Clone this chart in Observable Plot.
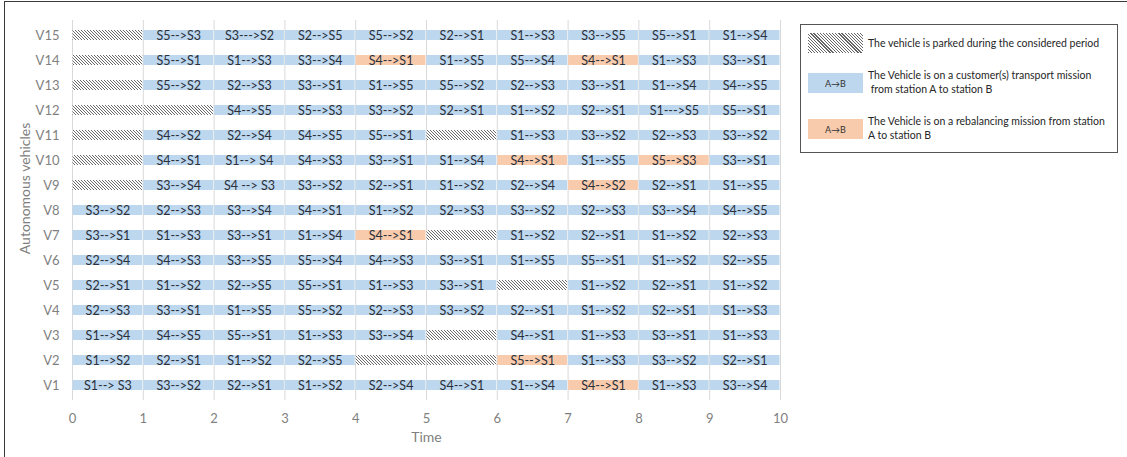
<!DOCTYPE html>
<html><head><meta charset="utf-8">
<script src="https://cdn.jsdelivr.net/npm/d3@7"></script>
<script src="https://cdn.jsdelivr.net/npm/@observablehq/plot@0.6"></script>
<style>
html,body{margin:0;padding:0;background:#fff;overflow:hidden}
#wrap{position:relative;width:1127px;height:457px;font-family:Lato,"Open Sans",sans-serif;overflow:hidden}
#frame{position:absolute;left:4px;top:1px;width:1300px;height:700px;border:1.5px solid #3a3a3a;box-sizing:border-box}
#chart{position:absolute;left:0;top:0}
#legend{position:absolute;left:800px;top:24px;width:318px;height:129px;border:1px solid #555;box-sizing:border-box;background:#fff;color:#262626;font-size:10.5px}
.sw{position:absolute;left:7px;width:55px;height:20px;display:flex;align-items:center;justify-content:center;font-size:9px;color:#333}
.lt{position:absolute;left:67px;line-height:14px;white-space:nowrap}
</style></head>
<body>
<div id="wrap">
  <div id="frame"></div>
  <div id="chart"></div>
  <div id="legend"></div>
</div>
<script>
// ---- data ----
const vehicles = ["V1","V2","V3","V4","V5","V6","V7","V8","V9","V10","V11","V12","V13","V14","V15"];
const xTicks = [0,1,2,3,4,5,6,7,8,9,10];
// "P" = parked, "*" prefix = rebalancing mission, otherwise customer transport mission
const v1  = ["S1--> S3","S3-->S2","S2-->S1","S1-->S2","S2-->S4","S4-->S1","S1-->S4","*S4-->S1","S1-->S3","S3-->S4"];
const v2  = ["S1-->S2","S2-->S1","S1-->S2","S2-->S5","P","P","*S5-->S1","S1-->S3","S3-->S2","S2-->S1"];
const v3  = ["S1-->S4","S4-->S5","S5-->S1","S1-->S3","S3-->S4","P","S4-->S1","S1-->S3","S3-->S1","S1-->S3"];
const v4  = ["S2-->S3","S3-->S1","S1-->S5","S5-->S2","S2-->S3","S3-->S2","S2-->S1","S1-->S2","S2-->S1","S1-->S3"];
const v5  = ["S2-->S1","S1-->S2","S2-->S5","S5-->S1","S1-->S3","S3-->S1","P","S1-->S2","S2-->S1","S1-->S2"];
const v6  = ["S2-->S4","S4-->S3","S3-->S5","S5-->S4","S4-->S3","S3-->S1","S1-->S5","S5-->S1","S1-->S2","S2-->S5"];
const v7  = ["S3-->S1","S1-->S3","S3-->S1","S1-->S4","*S4-->S1","P","S1-->S2","S2-->S1","S1-->S2","S2-->S3"];
const v8  = ["S3-->S2","S2-->S3","S3-->S4","S4-->S1","S1-->S2","S2-->S3","S3-->S2","S2-->S3","S3-->S4","S4-->S5"];
const v9  = ["P","S3-->S4","S4 --> S3","S3-->S2","S2-->S1","S1-->S2","S2-->S4","*S4-->S2","S2-->S1","S1-->S5"];
const v10 = ["P","S4-->S1","S1--> S4","S4-->S3","S3-->S1","S1-->S4","*S4-->S1","S1-->S5","*S5-->S3","S3-->S1"];
const v11 = ["P","S4-->S2","S2-->S4","S4-->S5","S5-->S1","P","S1-->S3","S3-->S2","S2-->S3","S3-->S2"];
const v12 = ["P","P","S4-->S5","S5-->S3","S3-->S2","S2-->S1","S1-->S2","S2-->S1","S1--->S5","S5-->S1"];
const v13 = ["P","S5-->S2","S2-->S3","S3-->S1","S1-->S5","S5-->S2","S2-->S3","S3-->S1","S1-->S4","S4-->S5"];
const v14 = ["P","S5-->S1","S1-->S3","S3-->S4","*S4-->S1","S1-->S5","S5-->S4","*S4-->S1","S1-->S3","S3-->S1"];
const v15 = ["P","S5-->S3","S3--->S2","S2-->S5","S5-->S2","S2-->S1","S1-->S3","S3-->S5","S5-->S1","S1-->S4"];
const rows = [v1,v2,v3,v4,v5,v6,v7,v8,v9,v10,v11,v12,v13,v14,v15];

const legendTexts = [
  ["The vehicle is parked during the considered period"],
  ["The Vehicle is on a customer(s) transport mission", "\u00a0from station A to station B"],
  ["The Vehicle is on a rebalancing mission from station", "A to station B"]
];

// ---- build table ----
const tasks = [];
rows.forEach((row, vi) => {
  row.forEach((s, t) => {
    let type = "customer", label = s;
    if (s === "P") { type = "parked"; label = ""; }
    else if (s.startsWith("*")) { type = "rebalancing"; label = s.slice(1); }
    tasks.push({vehicle: vehicles[vi], start: xTicks[t], end: xTicks[t + 1], type, label});
  });
});

const colors = {customer: "#bdd7ee", rebalancing: "#f8cbad", parked: "url(#hatch)"};

const chart = Plot.plot({
  width: 800,
  height: 457,
  marginLeft: 72,
  marginRight: 20,
  marginTop: 20,
  marginBottom: 57,
  style: {fontFamily: "Lato, 'Open Sans', sans-serif", fontSize: "13px", color: "#7f7f7f", background: "transparent"},
  x: {domain: [0, 10], ticks: xTicks, tickSize: 0, tickPadding: 13, label: null},
  y: {domain: vehicles.slice().reverse(), paddingInner: 0.6, paddingOuter: 0.31, tickSize: 0, tickPadding: 13, label: null},
  marks: [
    Plot.gridX(xTicks, {stroke: "#d9d9d9", strokeOpacity: 1, strokeWidth: 1}),
    Plot.barX(tasks.filter(d => d.type === "customer"), {x1: "start", x2: "end", y: "vehicle", fill: colors.customer, insetLeft: 0.5, insetRight: 0.5}),
    Plot.barX(tasks.filter(d => d.type === "rebalancing"), {x1: "start", x2: "end", y: "vehicle", fill: colors.rebalancing, insetLeft: 0.5, insetRight: 0.5}),
    Plot.barX(tasks.filter(d => d.type === "parked"), {x1: "start", x2: "end", y: "vehicle", fill: colors.parked, insetLeft: 0.5, insetRight: 0.5}),
    Plot.text(tasks.filter(d => d.type !== "parked"), {x: d => (d.start + d.end) / 2, y: "vehicle", text: "label", fill: "#2a2f3a", fontSize: 12.5}),
    Plot.text(["Time"], {frameAnchor: "bottom", dy: 41, fill: "#7f7f7f", fontSize: 14}),
    Plot.text(["Autonomous vehicles"], {frameAnchor: "left", textAnchor: "middle", dx: -47, dy: -22, rotate: -90, fill: "#7f7f7f", fontSize: 14})
  ]
});

const defs = d3.select(chart).insert("defs", ":first-child");
const pat = defs.append("pattern").attr("id", "hatch").attr("patternUnits", "userSpaceOnUse").attr("width", 3).attr("height", 3);
pat.append("rect").attr("width", 3).attr("height", 3).attr("fill", "#fff");
pat.append("path").attr("d", "M0,0L3,3M-1,2L1,4M2,-1L4,1").attr("stroke", "#5a5a5a").attr("stroke-width", 0.9);

document.getElementById("chart").appendChild(chart);

// ---- legend ----
const lg = document.getElementById("legend");
const swTops = [8, 48, 94];
const swFills = ["repeating-linear-gradient(45deg,#666 0 0.9px,#fff 0.9px 2.2px)", colors.customer, colors.rebalancing];
const swLabels = ["", "A\u2192B", "A\u2192B"];
const textTops = [11, 43, 89];
legendTexts.forEach((lines, i) => {
  const sw = document.createElement("div");
  sw.className = "sw";
  sw.style.top = swTops[i] + "px";
  sw.style.background = swFills[i];
  sw.textContent = swLabels[i];
  lg.appendChild(sw);
  const t = document.createElement("div");
  t.className = "lt";
  t.style.top = textTops[i] + "px";
  t.innerHTML = lines.join("<br>");
  lg.appendChild(t);
});
</script>
</body></html>
